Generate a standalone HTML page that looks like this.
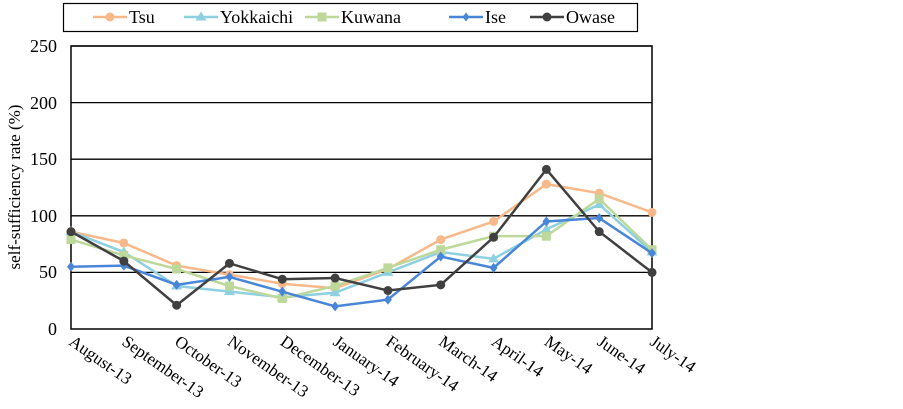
<!DOCTYPE html>
<html><head><style>body{margin:0;background:#fff}svg{display:block}</style></head><body>
<svg width="903" height="409" xmlns="http://www.w3.org/2000/svg" font-family="Liberation Serif, serif">
<rect width="903" height="409" fill="#fff"/>
<g stroke="#000" stroke-width="1.3">
<line x1="71" y1="46" x2="652" y2="46"/><line x1="71" y1="102.6" x2="652" y2="102.6"/>
<line x1="71" y1="159.2" x2="652" y2="159.2"/><line x1="71" y1="215.8" x2="652" y2="215.8"/>
<line x1="71" y1="272.4" x2="652" y2="272.4"/>
<rect x="71" y="46" width="581" height="283" fill="none" stroke-width="1.5"/>
</g>
<g font-size="18" text-anchor="end">
<text x="57" y="52">250</text><text x="57" y="109">200</text><text x="57" y="165">150</text>
<text x="57" y="222">100</text><text x="57" y="278">50</text><text x="57" y="335">0</text>
</g>
<text transform="translate(20,187) rotate(-90)" font-size="17" text-anchor="middle">self-sufficiency rate (%)</text>
<g font-size="17" id="xl"></g>
<g id="series"></g>
<rect x="63.5" y="3.5" width="574" height="28" fill="#fff" stroke="#000" stroke-width="1.2"/>
<g id="leg" font-size="18"></g>
<script>
var NS="http://www.w3.org/2000/svg";
function el(p,t,a,txt){var e=document.createElementNS(NS,t);for(var k in a)e.setAttribute(k,a[k]);if(txt)e.textContent=txt;p.appendChild(e);return e;}
var months=["August-13","September-13","October-13","November-13","December-13","January-14","February-14","March-14","April-14","May-14","June-14","July-14"];
var xl=document.getElementById("xl");
months.forEach(function(m,i){var x=71+i*52.82;el(xl,"text",{transform:"translate("+(x-3)+",344) rotate(35)"},m);});
var S=[
["Tsu","#F8B98A","c",[86,76,56,48,40,36,53,79,95,128,120,103]],
["Yokkaichi","#8ED0E0","t",[86,68,38,33,28,32,50,68,62,88,110,68]],
["Kuwana","#BDD89A","s",[79,65,53,38,27,38,54,70,82,82,115,70]],
["Ise","#4A86D8","d",[55,56,39,46,33,20,26,64,54,95,98,67]],
["Owase","#404040","c",[86,60,21,58,44,45,34,39,81,141,86,50]]];
function mk(g,t,x,y,c,r){if(t=="c")el(g,"circle",{cx:x,cy:y,r:r,fill:c});
else if(t=="t")el(g,"polygon",{points:(x)+","+(y-r-1)+" "+(x-r-1)+","+(y+r-1)+" "+(x+r+1)+","+(y+r-1),fill:c});
else if(t=="s")el(g,"rect",{x:x-r,y:y-r,width:2*r,height:2*r,fill:c});
else el(g,"polygon",{points:x+","+(y-r)+" "+(x+r-1)+","+y+" "+x+","+(y+r)+" "+(x-r+1)+","+y,fill:c});}
var sg=document.getElementById("series");
S.forEach(function(s){var pts=s[3].map(function(v,i){return [71+i*52.82,329-v*1.132];});
el(sg,"polyline",{points:pts.map(function(p){return p.join(",")}).join(" "),fill:"none",stroke:s[1],"stroke-width":2.5});
pts.forEach(function(p){mk(sg,s[2],p[0],p[1],s[1],s[2]=="d"?5:4.5);});});
var lg=document.getElementById("leg");var lx=[93,184,305,449,530];
S.forEach(function(s,i){var x=lx[i];el(lg,"line",{x1:x,y1:17,x2:x+34,y2:17,stroke:s[1],"stroke-width":2.5});mk(lg,s[2],x+17,17,s[1],4.5);el(lg,"text",{x:x+36,y:23},s[0]);});
</script>
</svg>
</body></html>
